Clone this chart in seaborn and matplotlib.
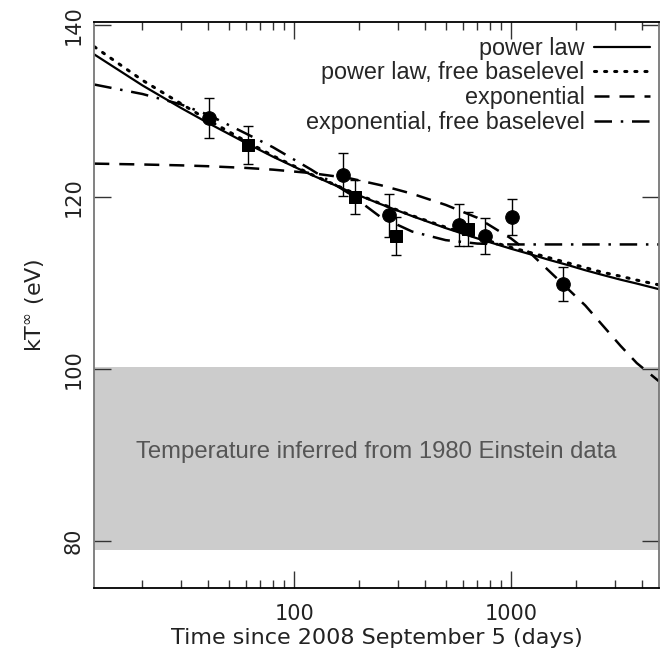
import matplotlib
matplotlib.use("Agg")
import pandas as pd
import matplotlib.pyplot as plt
import seaborn as sns

# measured temperatures (circles and squares) with 1-sigma errors
circle_days = [40.6, 168.7, 274, 578, 759, 1008, 1742]
circle_kt = [129.2, 122.6, 117.9, 116.8, 115.5, 117.7, 109.9]
circle_err = [2.35, 2.5, 2.5, 2.45, 2.1, 2.1, 1.95]

square_days = [61.5, 191, 294, 631]
square_kt = [126.1, 120.0, 115.5, 116.3]
square_err = [2.2, 2.0, 2.2, 1.95]

# fitted curves
curve_days = [12, 20, 30, 40, 60, 80, 120, 180, 250, 350, 500, 700,
              1000, 1250, 1500, 1800, 2200, 2600, 3200, 3800, 4800]
power_law = [136.6, 133.0, 130.4, 128.65, 126.3, 124.7, 122.6, 120.65, 119.2,
             117.8, 116.4, 115.2, 114.0, 113.3, 112.7, 112.15, 111.5, 111.0,
             110.4, 109.95, 109.3]
power_law_free = [137.5, 133.6, 130.9, 129.0, 126.5, 124.8, 122.65, 120.7, 119.25,
                  117.85, 116.5, 115.3, 114.15, 113.5, 112.95, 112.4, 111.8, 111.3,
                  110.8, 110.35, 109.8]
exponential = [123.9, 123.8, 123.7, 123.6, 123.4, 123.2, 122.8, 122.2, 121.4,
               120.4, 119.1, 117.6, 115.2, 113.3, 111.4, 109.5, 107.4, 105.3,
               102.7, 100.7, 98.6]
exponential_free = [133.1, 132.0, 130.8, 129.6, 127.4, 125.8, 123.2, 120.4, 117.7,
                    116.0, 115.0, 114.6, 114.5, 114.5, 114.5, 114.5, 114.5, 114.5,
                    114.5, 114.5, 114.5]

labels = ["power law", "power law, free baselevel", "exponential",
          "exponential, free baselevel"]

einstein_band = (79.0, 100.3)


def main():
    sns.set_style("ticks")
    plt.rcParams["font.family"] = ["Liberation Sans", "DejaVu Sans"]

    fig, ax = plt.subplots(figsize=(6.67, 6.60), dpi=100)
    fig.subplots_adjust(left=0.1414, right=0.988, bottom=0.1086, top=0.967)

    ax.axhspan(*einstein_band, color="#cccccc", lw=0, zorder=0)
    ax.text(0.5, sum(einstein_band) / 2 + 0.7, "Temperature inferred from 1980 Einstein data",
            transform=ax.get_yaxis_transform(), ha="center", va="center",
            fontsize=17.2, color="#555555")

    curves = pd.DataFrame({"days": curve_days, labels[0]: power_law,
                           labels[1]: power_law_free, labels[2]: exponential,
                           labels[3]: exponential_free})
    styles = [dict(ls="-", lw=1.6),
              dict(ls=(0, (0.7, 2.6)), lw=2.2, dash_capstyle="round"),
              dict(ls=(0, (6, 4)), lw=1.8),
              dict(ls=(0, (7, 3.5, 1, 3.5)), lw=1.8)]
    for lab, st in zip(labels, styles):
        sns.lineplot(data=curves, x="days", y=lab, ax=ax, color="black",
                     label=lab, **st)

    ax.errorbar(circle_days, circle_kt, yerr=circle_err, fmt="none",
                ecolor="black", elinewidth=1, capsize=3.5, capthick=1, zorder=3)
    ax.errorbar(square_days, square_kt, yerr=square_err, fmt="none",
                ecolor="black", elinewidth=1, capsize=3.5, capthick=1, zorder=3)
    sns.scatterplot(x=circle_days, y=circle_kt, ax=ax, marker="o", s=95,
                    color="black", edgecolor="black", zorder=4)
    sns.scatterplot(x=square_days, y=square_kt, ax=ax, marker="s", s=80,
                    color="black", edgecolor="black", zorder=4)

    ax.set_xscale("log")
    ax.set_xlim(12.0, 4810)
    ax.set_ylim(74.5, 140.4)
    ax.set_yticks([80, 100, 120, 140])
    ax.set_xticks([100, 1000])
    ax.set_xticklabels(["100", "1000"])

    ax.tick_params(which="both", direction="in", top=True, right=True,
                   color="#333333", labelcolor="#222222")
    ax.tick_params(which="major", length=12, width=1)
    ax.tick_params(which="minor", length=6, width=1)
    ax.tick_params(axis="x", pad=11)
    ax.tick_params(axis="y", pad=8)
    for t in ax.get_xticklabels() + ax.get_yticklabels():
        t.set_family("DejaVu Sans")
        t.set_fontsize(15)
    for t in ax.get_yticklabels():
        t.set_rotation(90)
        t.set_va("center")
    for side, c in [("left", "#777777"), ("right", "#777777"),
                    ("top", "black"), ("bottom", "black")]:
        ax.spines[side].set_color(c)
        ax.spines[side].set_linewidth(1.3)

    ax.set_xlabel("Time since 2008 September 5 (days)", fontsize=16,
                  family="DejaVu Sans", color="#222222", labelpad=3.5)
    ax.set_ylabel(r"kT$^{\infty}$ (eV)", fontsize=16, family="DejaVu Sans",
                  color="#222222")
    ax.yaxis.set_label_coords(-0.084, 0.5)

    ax.legend(loc="upper right", bbox_to_anchor=(0.984, 0.9735), frameon=False,
              markerfirst=False, fontsize=16.8, handlelength=2.4,
              handletextpad=0.4, labelspacing=0.07, borderaxespad=0,
              borderpad=0)

    fig.savefig("out.png", dpi=100)
    plt.close(fig)


if __name__ == "__main__":
    main()
